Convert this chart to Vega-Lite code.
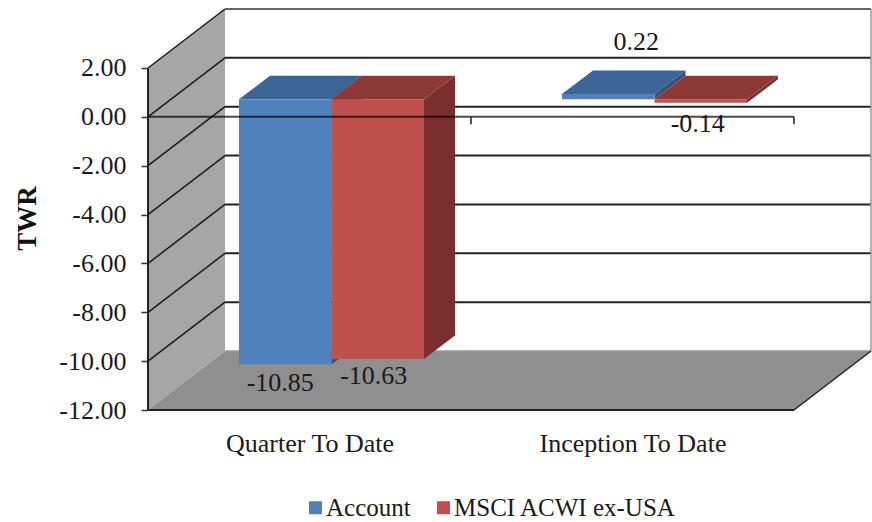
{
"$schema":"https://vega.github.io/schema/vega-lite/v6.json",
"autosize":{"type":"none"},
"padding":{"left":148,"top":9,"right":1,"bottom":112},
"width":723,"height":401,
"background":"white",
"config":{"view":{"stroke":null},"font":"Liberation Serif","text":{"font":"Liberation Serif","fontSize":26,"color":"#1a1a1a"}},
"resolve":{"axis":{"x":"independent","y":"independent"}},
"datasets":{
"bars":[
{"period":"Quarter To Date","series":"Account","value":-10.85},
{"period":"Quarter To Date","series":"MSCI ACWI ex-USA","value":-10.63},
{"period":"Inception To Date","series":"Account","value":0.22},
{"period":"Inception To Date","series":"MSCI ACWI ex-USA","value":-0.14}],
"grid":[{"tick":-10},{"tick":-8},{"tick":-6},{"tick":-4},{"tick":-2},{"tick":0},{"tick":2}],
"depths":[{"depth":0},{"depth":1}],
"cats":[{"edge":0},{"edge":1},{"edge":2}],
"frame":[{"lo":-12,"hi":2}]
},
"layer":[
{"data":{"name":"depths"},
 "transform":[{"calculate":"datum.depth*0.2384","as":"wx"},{"calculate":"-12+datum.depth*2.415","as":"wlo"},{"calculate":"2+datum.depth*2.415","as":"whi"}],
 "mark":{"type":"area","color":"#a6a6a6","orient":"vertical"},
  "encoding":{
   "x":{"field":"wx","type":"quantitative","scale":{"domain":[0,2.2384],"nice":false,"zero":false},
    "axis":{"values":[0.5,1.5],"labelExpr":"datum.value==0.5?'Quarter To Date':'Inception To Date'","domain":false,"ticks":false,"grid":false,"title":null,"labelFont":"Liberation Serif","labelFontSize":26,"labelColor":"#1a1a1a","labelPadding":20,"labelFlush":false,"labelOverlap":false,"labelLimit":400}},
   "y":{"field":"wlo","type":"quantitative","stack":null,"scale":{"domain":[-12,4.415],"nice":false,"zero":false},
    "axis":{"values":[-12,-10,-8,-6,-4,-2,0,2],"format":".2f","labelExpr":"replace(datum.label,'−','-')","domain":false,"grid":false,"tickSize":7,"tickColor":"#333333","tickWidth":1.5,"labelFont":"Liberation Serif","labelFontSize":26,"labelColor":"#1a1a1a","labelPadding":15,"labelOverlap":false,"labelFlush":false,"title":"TWR","titleFont":"Liberation Serif","titleFontSize":27,"titleFontWeight":"bold","titleColor":"#111111","titleX":-107,"titleY":209}},
   "y2":{"field":"whi"}}},
{"data":{"name":"depths"},
 "transform":[{"calculate":"datum.depth*0.2384","as":"wx"},{"calculate":"-12+datum.depth*2.415","as":"wlo"},{"calculate":"datum.wx+2","as":"wx2"}],
 "mark":{"type":"area","color":"#8f8f8f","orient":"horizontal"},
  "encoding":{
   "x":{"field":"wx","type":"quantitative","stack":null,"scale":{"domain":[0,2.2384],"nice":false,"zero":false},"axis":null},
   "x2":{"field":"wx2"},
   "y":{"field":"wlo","type":"quantitative","scale":{"domain":[-12,4.415],"nice":false,"zero":false},"axis":null}}},
{"data":{"name":"grid"},
 "transform":[{"calculate":"datum.tick+2.415","as":"by"},{"calculate":"0.2384","as":"bx"},{"calculate":"2.2384","as":"bx2"},{"calculate":"0","as":"fx"}],
 "layer":[
 {"mark":{"type":"rule","color":"#222222","strokeWidth":2},
  "encoding":{
   "x":{"field":"bx","type":"quantitative","scale":{"domain":[0,2.2384],"nice":false,"zero":false},"axis":null},
   "x2":{"field":"bx2"},
   "y":{"field":"by","type":"quantitative","scale":{"domain":[-12,4.415],"nice":false,"zero":false},"axis":null}}},
 {"mark":{"type":"rule","color":"#1a1a1a","strokeWidth":1.5},
  "encoding":{
   "x":{"field":"fx","type":"quantitative","scale":{"domain":[0,2.2384],"nice":false,"zero":false},"axis":null},
   "x2":{"field":"bx"},
   "y":{"field":"tick","type":"quantitative","scale":{"domain":[-12,4.415],"nice":false,"zero":false},"axis":null},
   "y2":{"field":"by"}}}
 ]},
{"data":{"name":"frame"},
 "transform":[{"calculate":"datum.lo+2.415","as":"blo"},{"calculate":"datum.hi+2.415","as":"bhi"},{"calculate":"0.2384","as":"x1"},{"calculate":"2","as":"x2r"},{"calculate":"2.2384","as":"x3"}],
 "layer":[
 {"mark":{"type":"rule","color":"#666666","strokeWidth":2},
  "encoding":{"x":{"field":"x1","type":"quantitative","scale":{"domain":[0,2.2384],"nice":false,"zero":false},"axis":null},"x2":{"field":"x3"},"y":{"field":"bhi","type":"quantitative","scale":{"domain":[-12,4.415],"nice":false,"zero":false},"axis":null}}},
 {"mark":{"type":"rule","color":"#999999","strokeWidth":1.5},
  "encoding":{"x":{"field":"x1","type":"quantitative","scale":{"domain":[0,2.2384],"nice":false,"zero":false},"axis":null},"x2":{"field":"x3"},"y":{"field":"blo","type":"quantitative","scale":{"domain":[-12,4.415],"nice":false,"zero":false},"axis":null}}},
 {"mark":{"type":"rule","color":"#999999","strokeWidth":1.5},
  "encoding":{"x":{"field":"x3","type":"quantitative","scale":{"domain":[0,2.2384],"nice":false,"zero":false},"axis":null},"y":{"field":"blo","type":"quantitative","scale":{"domain":[-12,4.415],"nice":false,"zero":false},"axis":null},"y2":{"field":"bhi"}}},
 {"mark":{"type":"rule","color":"#222222","strokeWidth":1.5},
  "encoding":{"x":{"field":"x2r","type":"quantitative","scale":{"domain":[0,2.2384],"nice":false,"zero":false},"axis":null},"x2":{"field":"x3"},"y":{"field":"lo","type":"quantitative","scale":{"domain":[-12,4.415],"nice":false,"zero":false},"axis":null},"y2":{"field":"blo"}}}
 ]},
{"data":{"name":"bars"},
 "transform":[
  {"calculate":"(datum.period==='Quarter To Date'?0:1)+0.2817+(datum.series==='Account'?0:0.2864)","as":"fx0"},
  {"calculate":"datum.fx0+0.2864","as":"fx1"},
  {"calculate":"max(datum.value,0)+0.716","as":"ftop"},
  {"calculate":"min(datum.value,0)+0.716","as":"fbot"},
  {"calculate":"(datum.fx0+datum.fx1)/2","as":"fcx"},
  {"calculate":"replace(format(datum.value,'.2f'),'−','-')","as":"label"},
  {"calculate":"[0,1]","as":"t"},
  {"flatten":["t"]},
  {"calculate":"datum.fx0+datum.t*0.096","as":"tx0"},
  {"calculate":"datum.fx1+datum.t*0.096","as":"tx1"},
  {"calculate":"datum.ftop+datum.t*0.962","as":"ty"},
  {"calculate":"datum.fbot+datum.t*0.962","as":"by"},
  {"calculate":"datum.period+datum.series","as":"key"}
 ],
 "layer":[
 {"mark":{"type":"area","orient":"vertical"},
  "encoding":{
   "detail":{"field":"key"},
   "x":{"field":"tx1","type":"quantitative","scale":{"domain":[0,2.2384],"nice":false,"zero":false},"axis":null},
   "y":{"field":"by","type":"quantitative","stack":null,"scale":{"domain":[-12,4.415],"nice":false,"zero":false},"axis":null},
   "y2":{"field":"ty"},
   "fill":{"condition":{"test":"datum.series==='Account'","value":"#2f5280"},"value":"#7a2f2d"}}},
 {"mark":{"type":"area","orient":"horizontal"},
  "encoding":{
   "detail":{"field":"key"},
   "x":{"field":"tx0","type":"quantitative","stack":null,"scale":{"domain":[0,2.2384],"nice":false,"zero":false},"axis":null},
   "x2":{"field":"tx1"},
   "y":{"field":"ty","type":"quantitative","scale":{"domain":[-12,4.415],"nice":false,"zero":false},"axis":null},
   "fill":{"condition":{"test":"datum.series==='Account'","value":"#3c6494"},"value":"#8c3836"}}},
 {"transform":[{"filter":"datum.t===0"}],
  "mark":{"type":"rect"},
  "encoding":{
   "x":{"field":"fx0","type":"quantitative","scale":{"domain":[0,2.2384],"nice":false,"zero":false},"axis":null},
   "x2":{"field":"fx1"},
   "y":{"field":"ftop","type":"quantitative","scale":{"domain":[-12,4.415],"nice":false,"zero":false},"axis":null},
   "y2":{"field":"fbot"},
   "color":{"field":"series","type":"nominal","scale":{"domain":["Account","MSCI ACWI ex-USA"],"range":["#4f81bd","#c0504d"]},
    "legend":{"title":null,"orient":"none","direction":"horizontal","legendX":155,"legendY":486,"symbolType":"square","symbolSize":169,"symbolStrokeWidth":0,"labelFont":"Liberation Serif","labelFontSize":25,"labelColor":"#1a1a1a","labelOffset":-2,"labelLimit":400,"columnPadding":20}}}},
 {"transform":[{"filter":"datum.t===0 && datum.value===-10.85"}],"mark":{"type":"text","dx":-5,"dy":19},
  "encoding":{"x":{"field":"fcx","type":"quantitative","scale":{"domain":[0,2.2384],"nice":false,"zero":false},"axis":null},"y":{"field":"fbot","type":"quantitative","scale":{"domain":[-12,4.415],"nice":false,"zero":false},"axis":null},"text":{"field":"label"}}},
 {"transform":[{"filter":"datum.t===0 && datum.value===-10.63"}],"mark":{"type":"text","dx":-4,"dy":17},
  "encoding":{"x":{"field":"fcx","type":"quantitative","scale":{"domain":[0,2.2384],"nice":false,"zero":false},"axis":null},"y":{"field":"fbot","type":"quantitative","scale":{"domain":[-12,4.415],"nice":false,"zero":false},"axis":null},"text":{"field":"label"}}},
 {"transform":[{"filter":"datum.t===0 && datum.value===0.22"}],"mark":{"type":"text","dx":28,"dy":-52},
  "encoding":{"x":{"field":"fcx","type":"quantitative","scale":{"domain":[0,2.2384],"nice":false,"zero":false},"axis":null},"y":{"field":"ftop","type":"quantitative","scale":{"domain":[-12,4.415],"nice":false,"zero":false},"axis":null},"text":{"field":"label"}}},
 {"transform":[{"filter":"datum.t===0 && datum.value===-0.14"}],"mark":{"type":"text","dx":-3,"dy":21},
  "encoding":{"x":{"field":"fcx","type":"quantitative","scale":{"domain":[0,2.2384],"nice":false,"zero":false},"axis":null},"y":{"field":"fbot","type":"quantitative","scale":{"domain":[-12,4.415],"nice":false,"zero":false},"axis":null},"text":{"field":"label"}}}
 ]},
{"data":{"name":"frame"},
 "transform":[{"calculate":"0","as":"x0"},{"calculate":"2","as":"x2r"},{"calculate":"0","as":"zero"}],
 "layer":[
 {"mark":{"type":"rule","color":"#222222","strokeWidth":2},
  "encoding":{"x":{"field":"x0","type":"quantitative","scale":{"domain":[0,2.2384],"nice":false,"zero":false},"axis":null},"y":{"field":"lo","type":"quantitative","scale":{"domain":[-12,4.415],"nice":false,"zero":false},"axis":null},"y2":{"field":"hi"}}},
 {"mark":{"type":"rule","color":"#222222","strokeWidth":2},
  "encoding":{"x":{"field":"x0","type":"quantitative","scale":{"domain":[0,2.2384],"nice":false,"zero":false},"axis":null},"x2":{"field":"x2r"},"y":{"field":"lo","type":"quantitative","scale":{"domain":[-12,4.415],"nice":false,"zero":false},"axis":null}}},
 {"mark":{"type":"rule","color":"#000000","strokeWidth":2,"opacity":0.7},
  "encoding":{"x":{"field":"x0","type":"quantitative","scale":{"domain":[0,2.2384],"nice":false,"zero":false},"axis":null},"x2":{"field":"x2r"},"y":{"field":"zero","type":"quantitative","scale":{"domain":[-12,4.415],"nice":false,"zero":false},"axis":null}}}
 ]},
{"data":{"name":"cats"},
 "transform":[{"calculate":"0","as":"tick0"},{"calculate":"-0.3","as":"tick1"}],
 "mark":{"type":"rule","color":"#222222","strokeWidth":1.5},
 "encoding":{"x":{"field":"edge","type":"quantitative","scale":{"domain":[0,2.2384],"nice":false,"zero":false},"axis":null},"y":{"field":"tick0","type":"quantitative","scale":{"domain":[-12,4.415],"nice":false,"zero":false},"axis":null},"y2":{"field":"tick1"}}}
]
}
